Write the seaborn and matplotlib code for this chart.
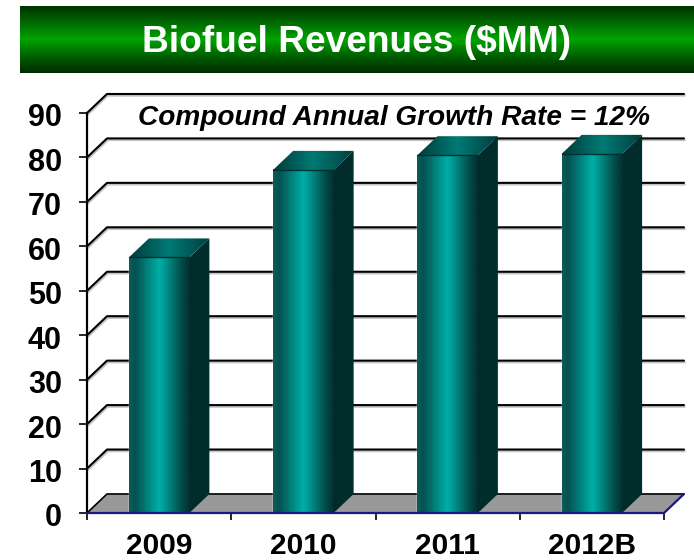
import numpy as np
import pandas as pd
import seaborn as sns
import matplotlib.pyplot as plt
import matplotlib.patheffects as pe
from matplotlib.colors import LinearSegmentedColormap
from matplotlib.patches import Polygon
from matplotlib.transforms import ScaledTranslation

years = ['2009', '2010', '2011', '2012B']
revenues = [57.5, 77.2, 80.5, 80.8]
y_ticks = list(range(0, 100, 10))
title = 'Biofuel Revenues ($MM)'
note = 'Compound Annual Growth Rate = 12%'

W, H = 694, 560
depth_x = 20 / 144.25   # 3d offset in category units
depth_y = 19 / 4.44     # 3d offset in value units

sns.set_theme(style='white')
plt.rcParams['font.family'] = ['Liberation Sans', 'DejaVu Sans']

fig = plt.figure(figsize=(W / 100, H / 100), dpi=100)

# title band
band = fig.add_axes([19.5 / W, 1 - 73 / H, (W - 19.5) / W, 67 / H])
band_cmap = LinearSegmentedColormap.from_list('band', ['#003300', '#006a00', '#00a400', '#006000', '#002a00'])
band.imshow(np.linspace(0, 1, 128).reshape(-1, 1), cmap=band_cmap, aspect='auto')
band.axis('off')
fig.text(357 / W, 1 - 43 / H, title, color='white', fontsize=26.7, fontweight='bold', ha='center', va='center')

ax = fig.add_axes([87 / W, 1 - 513 / H, 577 / W, 400 / H])
df = pd.DataFrame({'year': years, 'revenue': revenues})
sns.barplot(data=df, x='year', y='revenue', width=60.5 / 144.25, color='#00a8a0', ax=ax, zorder=3)
bars = list(ax.containers[0])

x0, x1 = -0.5, 3.5
shadow = [pe.SimpleLineShadow(offset=(0.6, -1.2), shadow_color='#aaaaaa', alpha=0.7), pe.Normal()]

# back wall grid
for t in y_ticks[1:]:
    ax.plot([x0, x0 + depth_x, x1 + depth_x], [t, t + depth_y, t + depth_y], color='black', lw=1.5,
            clip_on=False, zorder=1, path_effects=shadow)

# floor
ax.add_patch(Polygon([(x0, 0), (x0 + depth_x, depth_y), (x1 + depth_x, depth_y), (x1, 0)],
                     facecolor='#999999', edgecolor='none', clip_on=False, zorder=1.5))
ax.plot([x0, x0 + depth_x, x1 + depth_x], [0, depth_y, depth_y], color='black', lw=1.2, clip_on=False, zorder=1.6)
ax.plot([x0, x1, x1 + depth_x], [0, 0, depth_y], color='#1a1a80', lw=1.6, clip_on=False, zorder=5)

front_cmap = LinearSegmentedColormap.from_list('front', [(0, '#0b5c5a'), (0.1, '#045250'), (0.5, '#00b0a8'),
                                                         (0.88, '#034846'), (1, '#032f2f')])
top_cmap = LinearSegmentedColormap.from_list('top', ['#013c3c', '#007a74', '#013e3e'])
side_color = '#002c2c'
grad = np.linspace(0, 1, 128).reshape(1, -1)

for bar in bars:
    left, w, h = bar.get_x(), bar.get_width(), bar.get_height()
    ax.imshow(grad, cmap=front_cmap, aspect='auto', extent=[left, left + w, 0, h], zorder=3.2)
    ax.add_patch(Polygon([(left + w, 0), (left + w + depth_x, depth_y), (left + w + depth_x, h + depth_y), (left + w, h)],
                         facecolor=side_color, edgecolor='none', zorder=3.1))
    roof = Polygon([(left, h), (left + depth_x, h + depth_y), (left + w + depth_x, h + depth_y), (left + w, h)],
                   facecolor='none', edgecolor='none', zorder=3.1)
    ax.add_patch(roof)
    im = ax.imshow(grad, cmap=top_cmap, aspect='auto', extent=[left, left + w + depth_x, h, h + depth_y], zorder=3.2)
    im.set_clip_path(roof)
    ax.plot([left, left + w], [h, h], color='#013030', lw=1, zorder=3.3)

ax.set_xlim(x0, x1)
ax.set_ylim(0, 90)
ax.set_xticks([x0, 0.5, 1.5, 2.5, x1])
ax.set_xticklabels([])
ax.set_yticks(y_ticks)
ax.set_xlabel('')
ax.set_ylabel('')
ax.tick_params(axis='y', direction='out', length=6, width=1.2, color='black', left=True, pad=12)
ax.tick_params(axis='x', direction='out', length=5, width=1.2, color='black', bottom=True)
nudge = ScaledTranslation(0, -2 / 100, fig.dpi_scale_trans)
for lab in ax.get_yticklabels():
    lab.set_fontsize(22)
    lab.set_fontweight('bold')
    lab.set_color('black')
    lab.set_transform(lab.get_transform() + nudge)
for s in ['top', 'right', 'bottom']:
    ax.spines[s].set_visible(False)
ax.spines['left'].set_color('black')
ax.spines['left'].set_linewidth(1.6)

# category labels sit between the ticks
for i, y in enumerate(years):
    ax.annotate(y, (i, 0), xytext=(0, -23.5), textcoords='offset points', ha='center', va='center',
                fontsize=21.5, fontweight='bold', color='black', annotation_clip=False)

ax.text((394 - 87) / 577 * 4 - 0.5, 90 - (118 - 113) / 4.44, note, ha='center', va='center', fontsize=20.2,
        fontweight='bold', fontstyle='italic', color='black', zorder=6)

fig.savefig('out.png', dpi=100)
